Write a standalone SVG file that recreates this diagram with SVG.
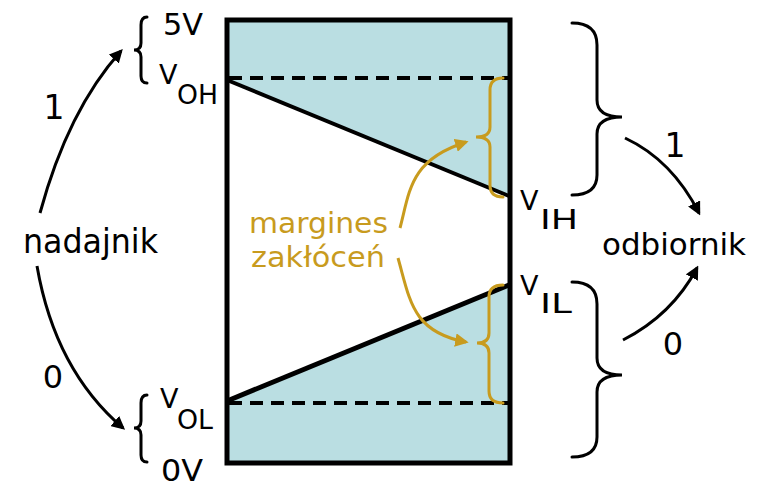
<svg xmlns="http://www.w3.org/2000/svg" width="765" height="494" viewBox="0 0 765 494">
<defs>
<style>
.t{font-family:"DejaVu Sans","Liberation Sans",sans-serif;fill:#000}
.g{font-family:"DejaVu Sans","Liberation Sans",sans-serif;fill:#c89b1e}
.br{fill:none;stroke:#000;stroke-width:3;stroke-linecap:round}
.gb{fill:none;stroke:#c89b1e;stroke-width:3;stroke-linecap:round}
.ar{fill:none;stroke:#000;stroke-width:3}
.ga{fill:none;stroke:#c89b1e;stroke-width:3}
.dash{stroke:#000;stroke-width:4;stroke-dasharray:13 8}
</style>
<marker id="ah" viewBox="0 0 10 10" refX="8" refY="5" markerWidth="4.5" markerHeight="4.5" orient="auto" markerUnits="strokeWidth">
<path d="M0,0 L10,5 L0,10 z" fill="#000"/>
</marker>
<marker id="gah" viewBox="0 0 10 10" refX="8" refY="5" markerWidth="4.5" markerHeight="4.5" orient="auto" markerUnits="strokeWidth">
<path d="M0,0 L10,5 L0,10 z" fill="#c89b1e"/>
</marker>
</defs>
<rect width="765" height="494" fill="#fff"/>

<g id="chart">
<polygon points="227,20 510,20 510,197 227,80" fill="#badee2"/>
<polygon points="227,401 510,285 510,463 227,463" fill="#badee2"/>
<line x1="229" y1="78" x2="508" y2="78" class="dash"/>
<line x1="229" y1="403" x2="508" y2="403" class="dash"/>
<line x1="227" y1="80" x2="509" y2="196" stroke="#000" stroke-width="4"/>
<line x1="227" y1="401" x2="509" y2="285" stroke="#000" stroke-width="5"/>
<rect x="227" y="20" width="283" height="443" fill="none" stroke="#000" stroke-width="5"/>
</g>

<g id="margin-braces">
<path class="gb" d="M503,78 Q490,78 490,90 L490,127 Q490,137 476,137 Q490,137 490,147 L490,185 Q490,197 503,197"/>
<path class="gb" d="M503,285 Q489,285 489,297 L489,333 Q489,343 477,343 Q489,343 489,353 L489,391 Q489,403 503,403"/>
</g>

<g id="left-braces">
<path class="br" d="M147,17 Q141,17 141,25 L141,43 Q141,50 134,50 Q141,50 141,57 L141,76 Q141,83 147,83"/>
<path class="br" d="M147,395 Q141,395 141,403 L141,421 Q141,428 134,428 Q141,428 141,435 L141,455 Q141,462 147,462"/>
</g>

<g id="right-braces">
<path class="br" d="M572,23 Q597,23 597,45 L597,100 Q597,117 622,117 Q597,117 597,134 L597,175 Q597,195 572,195"/>
<path class="br" d="M572,282 Q597,282 597,304 L597,358 Q597,375 622,375 Q597,375 597,392 L597,437 Q597,457 572,457"/>
</g>

<g id="connectors">
<path class="ar" d="M40,213 Q68,110 121,51" marker-end="url(#ah)"/>
<path class="ar" d="M37,266 Q55,370 123,428" marker-end="url(#ah)"/>
<path class="ar" d="M625,138 Q672,160 699,213" marker-end="url(#ah)"/>
<path class="ar" d="M623,340 Q672,315 697,268" marker-end="url(#ah)"/>
<path class="ga" d="M400,228 C410,190 410,160 466,142" marker-end="url(#gah)"/>
<path class="ga" d="M398,258 C410,300 412,332 466,342" marker-end="url(#gah)"/>
</g>

<g id="nadajnik">
<text class="t" x="23" y="253" font-size="33" textLength="135" lengthAdjust="spacingAndGlyphs">nadajnik</text>
<text class="t" x="54" y="119" font-size="33" text-anchor="middle">1</text>
<text class="t" x="53" y="388" font-size="32" text-anchor="middle">0</text>
</g>

<g id="odbiornik">
<text class="t" x="602" y="255" font-size="30" textLength="144" lengthAdjust="spacingAndGlyphs">odbiornik</text>
<text class="t" x="675" y="157" font-size="33" text-anchor="middle">1</text>
<text class="t" x="673" y="355" font-size="32" text-anchor="middle">0</text>
</g>

<g id="levels">
<text class="t" x="163" y="35" font-size="30" textLength="40" lengthAdjust="spacingAndGlyphs">5V</text>
<text class="t" x="159" y="84" font-size="27">V</text>
<text class="t" x="177" y="104" font-size="27" textLength="41" lengthAdjust="spacingAndGlyphs">OH</text>
<text class="t" x="160" y="408" font-size="27">V</text>
<text class="t" x="177" y="429" font-size="27" textLength="36" lengthAdjust="spacingAndGlyphs">OL</text>
<text class="t" x="161" y="481" font-size="31" textLength="42" lengthAdjust="spacingAndGlyphs">0V</text>
<text class="t" x="520" y="210" font-size="27">V</text>
<text class="t" x="540" y="229" font-size="27" textLength="38" lengthAdjust="spacingAndGlyphs">IH</text>
<text class="t" x="520" y="295" font-size="27">V</text>
<text class="t" x="540" y="313" font-size="27" textLength="32" lengthAdjust="spacingAndGlyphs">IL</text>
</g>

<g id="margines">
<text class="g" x="249" y="233" font-size="28" textLength="139" lengthAdjust="spacingAndGlyphs">margines</text>
<text class="g" x="251" y="267" font-size="28" textLength="134" lengthAdjust="spacingAndGlyphs">zakłóceń</text>
</g>
</svg>
